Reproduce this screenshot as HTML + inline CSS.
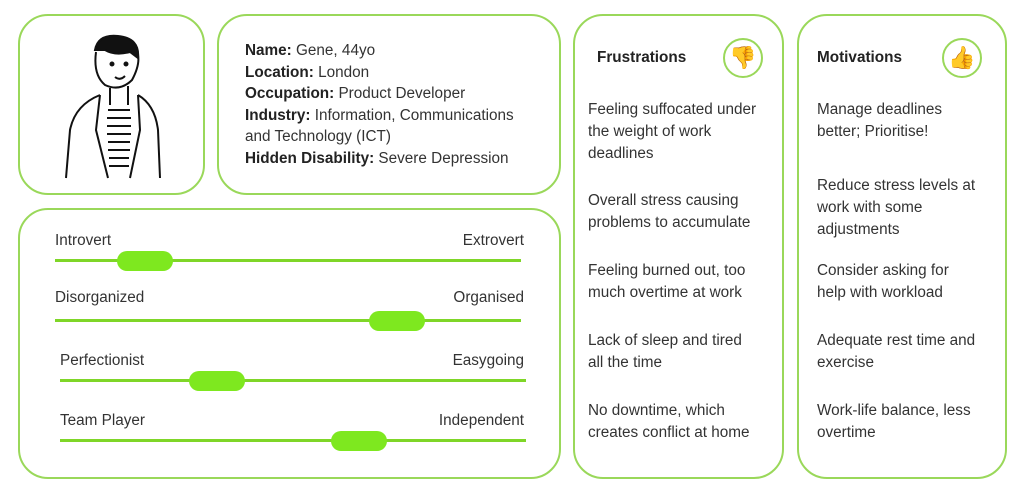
<!DOCTYPE html>
<html><head><meta charset="utf-8"><style>
body{margin:0;width:1023px;height:498px;background:#fff;font-family:"Liberation Sans",sans-serif;color:#333;position:relative;overflow:hidden}
.box{position:absolute;border:2px solid #9ad85a;border-radius:30px;box-sizing:border-box}
.t{position:absolute;font-size:15.3px;line-height:22px;white-space:nowrap}
.trk{position:absolute;height:3px;background:#7fd628}
.th{position:absolute;width:56px;height:20px;border-radius:10px;background:#7ee81f}
.ic{position:absolute;width:40px;height:40px;border:2px solid #9ad85a;border-radius:50%;box-sizing:border-box;text-align:center;line-height:36px;font-size:22px;color:#f2b530}
b{color:#222}
</style></head><body>
<div class="box" style="left:18px;top:14px;width:187px;height:181px"></div>
<svg style="position:absolute;left:60px;top:30px" width="110" height="155" viewBox="0 0 110 155" fill="none" stroke="#111" stroke-width="2">
<path d="M35 20 Q38 4 58 6 Q80 8 78 28 L70 22 Q55 26 45 20 Z" fill="#111"/>
<path d="M36 22 Q33 45 45 55 Q60 62 72 50 Q80 35 78 25"/>
<circle cx="52" cy="34" r="1.5" fill="#111"/><circle cx="66" cy="34" r="1.5" fill="#111"/>
<path d="M55 47 Q60 51 65 46"/>
<path d="M50 58 L50 75 M68 56 L68 75"/>
<path d="M40 65 Q15 75 10 100 L6 148 M40 65 L36 100 L48 148 M78 65 Q95 75 98 100 L100 148 M78 65 L80 100 L70 148"/>
<path d="M48 80 H70 M47 88 H71 M47 96 H71 M47 104 H71 M48 112 H70 M48 120 H70 M49 128 H69 M49 136 H69"/>
</svg>
<div class="box" style="left:217px;top:14px;width:344px;height:181px"></div>
<div class="t" style="left:245px;top:40px;line-height:21.6px"><b>Name:</b> Gene, 44yo<br><b>Location:</b> London<br><b>Occupation:</b> Product Developer<br><b>Industry:</b> Information, Communications<br>and Technology (ICT)<br><b>Hidden Disability:</b> Severe Depression</div>
<div class="box" style="left:18px;top:208px;width:543px;height:271px"></div>
<div class="t" style="left:55px;top:230px">Introvert</div><div class="t" style="right:499px;top:230px">Extrovert</div>
<div class="trk" style="left:55px;top:259px;width:466px"></div><div class="th" style="left:117px;top:251px"></div>
<div class="t" style="left:55px;top:287px">Disorganized</div><div class="t" style="right:499px;top:287px">Organised</div>
<div class="trk" style="left:55px;top:319px;width:466px"></div><div class="th" style="left:369px;top:311px"></div>
<div class="t" style="left:60px;top:350px">Perfectionist</div><div class="t" style="right:499px;top:350px">Easygoing</div>
<div class="trk" style="left:60px;top:379px;width:466px"></div><div class="th" style="left:189px;top:371px"></div>
<div class="t" style="left:60px;top:410px">Team Player</div><div class="t" style="right:499px;top:410px">Independent</div>
<div class="trk" style="left:60px;top:439px;width:466px"></div><div class="th" style="left:331px;top:431px"></div>
<div class="box" style="left:573px;top:14px;width:211px;height:465px"></div>
<div class="t" style="left:597px;top:47px;font-weight:bold;color:#222">Frustrations</div>
<div class="ic" style="left:723px;top:38px">👎</div>
<div class="t" style="left:588px;top:99px">Feeling suffocated under<br>the weight of work<br>deadlines</div>
<div class="t" style="left:588px;top:190px">Overall stress causing<br>problems to accumulate</div>
<div class="t" style="left:588px;top:260px">Feeling burned out, too<br>much overtime at work</div>
<div class="t" style="left:588px;top:330px">Lack of sleep and tired<br>all the time</div>
<div class="t" style="left:588px;top:400px">No downtime, which<br>creates conflict at home</div>
<div class="box" style="left:797px;top:14px;width:210px;height:465px"></div>
<div class="t" style="left:817px;top:47px;font-weight:bold;color:#222">Motivations</div>
<div class="ic" style="left:942px;top:38px">👍</div>
<div class="t" style="left:817px;top:99px">Manage deadlines<br>better; Prioritise!</div>
<div class="t" style="left:817px;top:175px">Reduce stress levels at<br>work with some<br>adjustments</div>
<div class="t" style="left:817px;top:260px">Consider asking for<br>help with workload</div>
<div class="t" style="left:817px;top:330px">Adequate rest time and<br>exercise</div>
<div class="t" style="left:817px;top:400px">Work-life balance, less<br>overtime</div>
</body></html>
